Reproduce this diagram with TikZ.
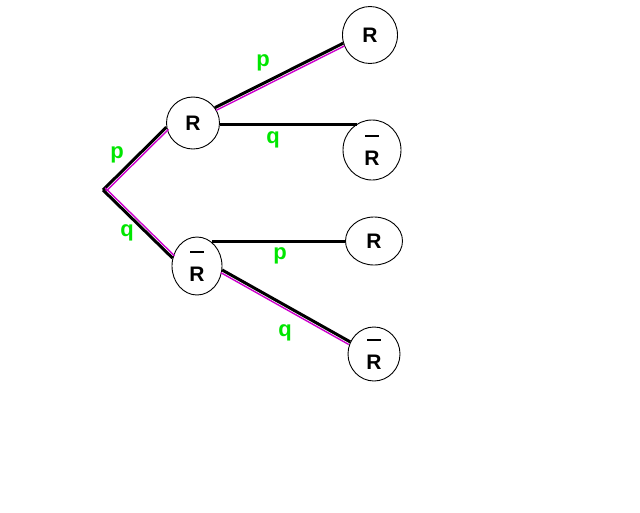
\documentclass[tikz,border=0pt]{standalone}
\usepackage{fontspec}
\setmainfont{Liberation Sans}
\usetikzlibrary{shapes.geometric,calc}
\definecolor{lbl}{RGB}{0,230,0}
\definecolor{mag}{RGB}{204,0,204}
\newcommand\barR{\rule{14pt}{2pt}\\[7pt]R}
\begin{document}
\begin{tikzpicture}[x=1pt,y=-1pt,
 st/.style={draw,ellipse,line width=0.9pt,inner sep=0pt,align=center,font=\fontsize{21}{21}\selectfont\bfseries},
 br/.style={line width=3pt},
 mg/.style={draw=mag,line width=1.4pt},
 lb/.style={text=lbl,font=\fontsize{22}{22}\selectfont\bfseries}]
\useasboundingbox (0,0) rectangle (640,512);
\coordinate (root) at (103,190);
\node[st,minimum width=53pt,minimum height=52pt] (R1) at (193,123) {R};
\node[st,minimum width=50pt,minimum height=58pt] (Rb1) at (197,266) {\barR};
\node[st,minimum width=55pt,minimum height=57pt] (Ra) at (370,35) {R};
\node[st,minimum width=58pt,minimum height=60pt] (Rb2) at (372,150) {\barR};
\node[st,minimum width=57pt,minimum height=48pt] (Rc) at (374,241) {R};
\node[st,minimum width=52pt,minimum height=54pt] (Rb4) at (374,354) {\barR};
% root -> R1
\draw[br] (root) -- (R1.189);
\draw[mg] ($(root)!3pt!-90:(R1.189)$) -- ($(R1.189)!3pt!90:(root)$);
% root -> Rb1
\draw[br] (root) -- (Rb1.162);
\draw[mg] ($(root)!3pt!90:(Rb1.162)$) -- ($(Rb1.162)!3pt!-90:(root)$);
% R1 -> Ra
\draw[br] (R1.35) -- (Ra.197.7);
\draw[mg] ($(R1.35)!3pt!-90:(Ra.197.7)$) -- ($(Ra.197.7)!3pt!90:(R1.35)$);
% R1 -> Rb2
\draw[br] (R1.-4) -- (R1.-4 -| Rb2.120);
% Rb1 -> Rc
\draw[br] (Rb1.57 |- Rc.west) -- (Rc.west);
% Rb1 -> Rb4
\draw[br] (Rb1.-9) -- (Rb4.153);
\draw[mg] ($(Rb1.-9)!3pt!-90:(Rb4.153)$) -- ($(Rb4.153)!3pt!90:(Rb1.-9)$);
% labels
\node[lb] (l1) at (117,155) {p};
\node[lb] (l2) at (127,233) {q};
\node[lb] (l3) at (263,63) {p};
\node[lb] (l4) at (273,140) {q};
\node[lb] (l5) at (280,256) {p};
\node[lb] (l6) at (285,333) {q};
\end{tikzpicture}
\end{document}
